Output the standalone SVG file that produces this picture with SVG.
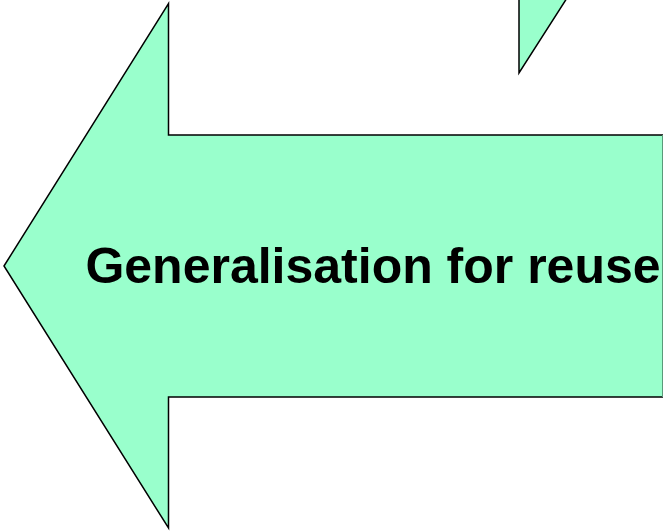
<svg xmlns="http://www.w3.org/2000/svg" width="663" height="532" viewBox="0 0 663 532">
<style>
.shape{fill:#99FFCC;stroke:#000;stroke-width:1.5;stroke-linejoin:miter}
.label{font-family:"Liberation Sans",Arial,sans-serif;font-weight:bold;font-size:50px;fill:#000}
</style>
<rect width="663" height="532" fill="#fff"/>
<g id="top-arrow">
<polygon class="shape" points="519,-2 519,73 567,-2"/>
</g>
<g id="generalisation-arrow">
<polygon class="shape" points="4,266 168.5,3.5 168.5,135 668,135 668,397 168.5,397 168.5,528"/>
<line x1="662.5" y1="135" x2="662.5" y2="397" stroke="#5a9a7a" stroke-width="1"/>
<text class="label" x="373" y="283" text-anchor="middle">Generalisation for reuse</text>
</g>
<g id="connectors"/>
</svg>
